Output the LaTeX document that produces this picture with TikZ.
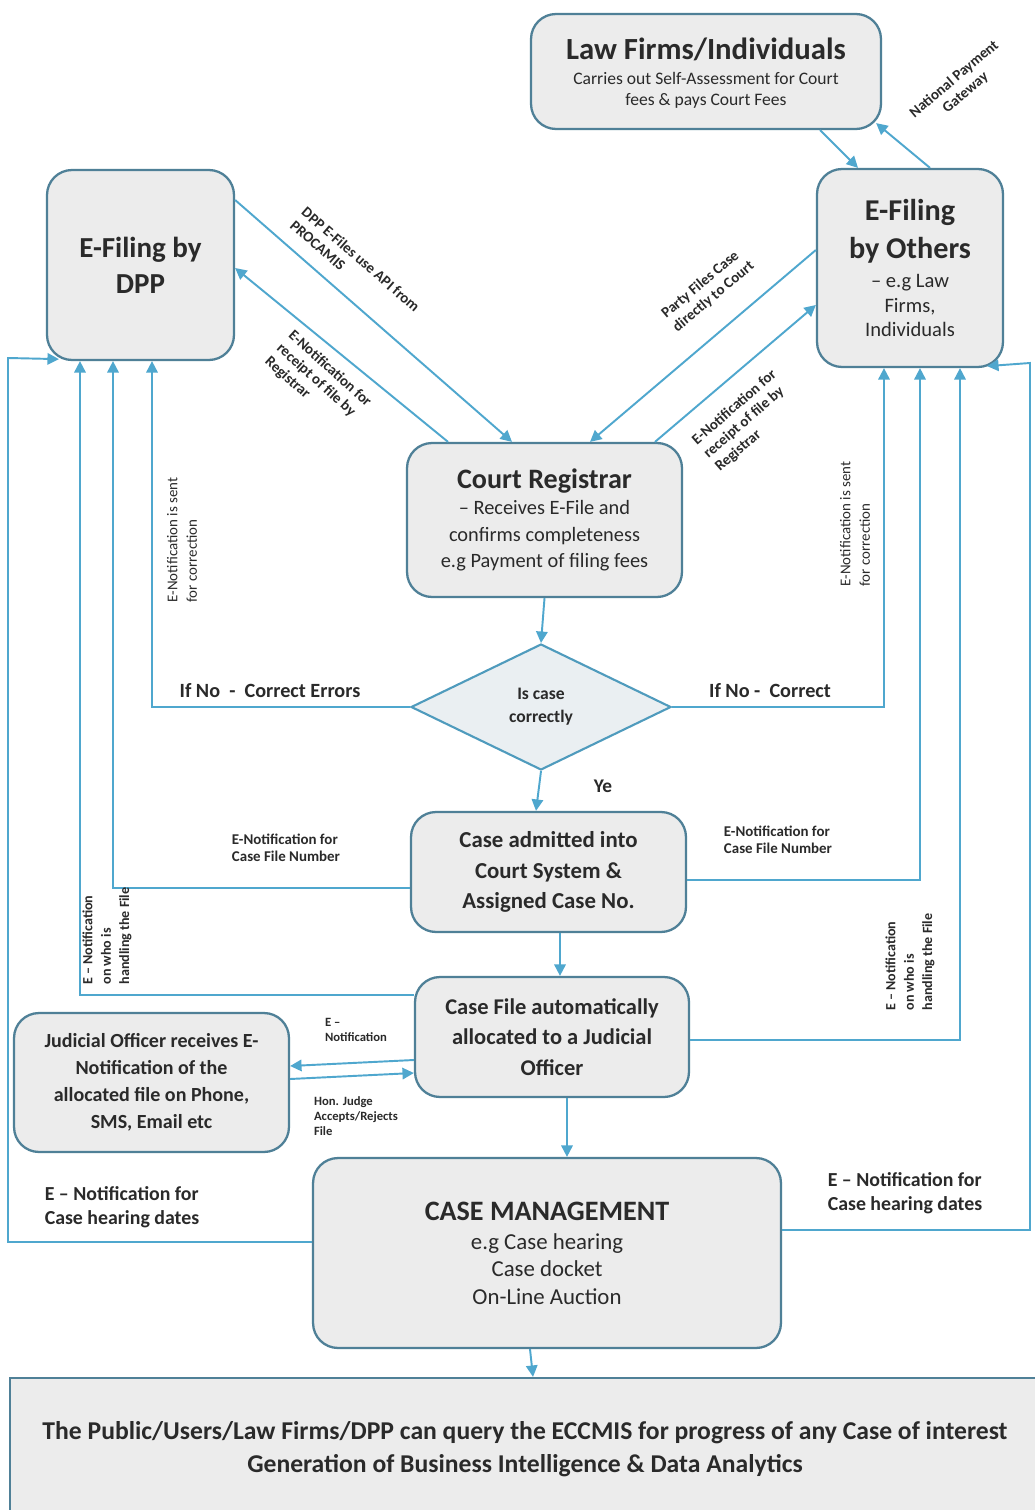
\documentclass[tikz,border=0pt]{standalone}
\usepackage{fontspec}
\setmainfont{Carlito}
\usetikzlibrary{shapes.geometric,arrows.meta,calc}
\definecolor{connc}{HTML}{4FA7CE}
\definecolor{bordc}{HTML}{4F8097}
\definecolor{boxf}{HTML}{ECECEC}
\definecolor{diamf}{HTML}{EAEFF2}
\definecolor{txtc}{HTML}{2A2A2A}
\begin{document}
\begin{tikzpicture}[x=0.02cm,y=-0.02cm,
  box/.style={draw=bordc,line width=1.3pt,fill=boxf,rounded corners=0.5cm,align=flush center,inner sep=1pt,text=txtc},
  cn/.style={draw=connc,line width=1.1pt,-{Triangle[length=6.5pt,width=6.5pt]}},
  lbl/.style={font=\fontsize{8.5}{10}\selectfont\bfseries,align=left,inner sep=0pt,text=txtc}]
\useasboundingbox (0,0) rectangle (1034,1510);
\fill[white] (0,0) rectangle (1034,1510);

% ---------- nodes ----------
\node[box,minimum width=7cm,minimum height=2.3cm,text width=6.9cm,font=\fontsize{10}{12}\selectfont] (lawf) at (706,71.5)
  {{\fontsize{17.5}{20}\selectfont\bfseries Law Firms/Individuals\par}\vspace{2.5pt}
   Carries out Self-Assessment for Court\\fees \& pays Court Fees\vspace{-2pt}};

\node[box,minimum width=3.74cm,minimum height=3.8cm,text width=3.6cm,font=\fontsize{16.5}{20.5}\selectfont\bfseries] (dpp) at (140.5,265)
  {E-Filing by\\DPP};

\node[box,minimum width=3.72cm,minimum height=3.96cm,text width=3.6cm,font=\fontsize{11.7}{13.9}\selectfont] (others) at (910,268)
  {{\fontsize{17.2}{21.5}\selectfont\bfseries E-Filing\\by Others\par}\vspace{3pt}
   – e.g Law\\Firms,\\Individuals};

\node[box,minimum width=5.5cm,minimum height=3.08cm,text width=5.4cm,font=\fontsize{11.6}{15}\selectfont] (reg) at (544.5,520)
  {{\fontsize{16}{18}\selectfont\bfseries Court Registrar\par}
   – Receives E-File and\\confirms completeness\\e.g Payment of filing fees};

\node[diamond,draw=connc!70!bordc,line width=1.2pt,fill=diamf,minimum width=5.2cm,minimum height=2.52cm,
  inner sep=0pt,align=center,text=txtc,font=\fontsize{10}{13}\selectfont\bfseries] (diam) at (541,707)
  {Is case\\correctly};

\node[box,minimum width=5.5cm,minimum height=2.4cm,text width=5.4cm,font=\fontsize{13}{17.3}\selectfont\bfseries] (adm) at (548.5,872)
  {Case admitted into\\Court System \&\\Assigned Case No.};

\node[box,minimum width=5.48cm,minimum height=2.4cm,text width=5.4cm,font=\fontsize{12.8}{17.3}\selectfont\bfseries] (alloc) at (552,1037)
  {Case File automatically\\allocated to a Judicial\\Officer};

\node[box,minimum width=5.5cm,minimum height=2.78cm,text width=5.4cm,font=\fontsize{11.4}{15.3}\selectfont\bfseries] (jud) at (151.5,1082.5)
  {Judicial Officer receives E-\\Notification of the\\allocated file on Phone,\\SMS, Email etc};

\node[box,minimum width=9.36cm,minimum height=3.8cm,text width=9.2cm,font=\fontsize{13}{15.6}\selectfont] (cm) at (547,1253)
  {{\fontsize{16}{18}\selectfont\bfseries CASE MANAGEMENT\par}\vspace{1pt}
   e.g Case hearing\\Case docket\\On-Line Auction};

\node[draw=bordc,line width=1.3pt,fill=boxf,minimum width=20.6cm,minimum height=2.84cm,align=center,
  text=txtc,font=\fontsize{14.6}{18.7}\selectfont\bfseries] (bot) at (525,1449)
  {The Public/Users/Law Firms/DPP can query the ECCMIS for progress of any Case of interest\\
   Generation of Business Intelligence \& Data Analytics};

% ---------- connectors ----------
\draw[cn] (lawf.south -| 820,0) -- (others.north -| 858,0);
\draw[cn] (others.north -| 930,0) -- ($(lawf.south east)+(-6,-7)$);
\node[lbl,rotate=40,align=center] at (960,86) {National Payment\\Gateway};

\draw[cn] (dpp.east |- 0,200) -- (reg.north -| 512,0);
\draw[cn] (reg.north -| 448,0) -- (dpp.east |- 0,268);
\node[lbl,rotate=-41] at (355,266) {DPP E-Files use API from\\PROCAMIS};
\node[lbl,rotate=-42] at (318,382) {E-Notification for\\receipt of file by\\Registrar};

\draw[cn] (others.west |- 0,250) -- (reg.north -| 590,0);
\draw[cn] (reg.north -| 655,0) -- (others.west |- 0,305);
\node[lbl,rotate=40] at (708,290) {Party Files Case\\directly to Court};
\node[lbl,rotate=41] at (746,421) {E-Notification for\\receipt of file by\\Registrar};

\draw[cn] (reg.south) -- (diam.north);

\draw[cn] (diam.west) -| (dpp.south -| 152,0);
\node[font=\fontsize{11.5}{13}\selectfont\bfseries,text=txtc] at (270,691) {If No\ \ -\ \ Correct Errors};
\node[lbl,font=\fontsize{8.5}{11}\selectfont,rotate=90] at (182,540) {E-Notification is sent\\for correction};

\draw[cn] (diam.east) -| (others.south -| 884,0);
\node[font=\fontsize{11.5}{13}\selectfont\bfseries,text=txtc] at (770,691) {If No -\ \ Correct};
\node[lbl,font=\fontsize{8.5}{11}\selectfont,rotate=90] at (855,524) {E-Notification is sent\\for correction};

\draw[cn] (diam.south) -- (adm.north -| 536,0);
\node[font=\fontsize{11}{13}\selectfont\bfseries,text=txtc] at (603,786) {Ye};

\draw[cn] (adm.west |- 0,888) -| (dpp.south -| 113,0);
\node[lbl] at (286,848) {E-Notification for\\Case File Number};
\draw[cn] (adm.east |- 0,880) -| (others.south -| 920,0);
\node[lbl] at (778,840) {E-Notification for\\Case File Number};

\draw[cn] (adm.south -| 560,0) -- (alloc.north -| 560,0);

\draw[cn] (alloc.west |- 0,995) -| (dpp.south -| 80,0);
\node[lbl,font=\fontsize{8}{10.5}\selectfont\bfseries,rotate=90] at (107,936) {E – Notification\\on who is\\handling the File};
\draw[cn] (alloc.east |- 0,1040) -| (others.south -| 960,0);
\node[lbl,font=\fontsize{8}{10.5}\selectfont\bfseries,rotate=90] at (910,962) {E – Notification\\on who is\\handling the File};

\draw[cn] (alloc.west |- 0,1060) -- (jud.east |- 0,1066);
\draw[cn] (jud.east |- 0,1079) -- (alloc.west |- 0,1073);
\node[lbl,font=\fontsize{7.2}{8.5}\selectfont\bfseries] at (356,1030) {E –\\Notification};
\node[lbl,font=\fontsize{7.2}{8.5}\selectfont\bfseries] at (356,1116) {Hon. Judge\\Accepts/Rejects\\File};

\draw[cn] (alloc.south -| 567,0) -- (cm.north -| 567,0);

\draw[cn] (cm.west |- 0,1242) -- (8,1242) -- (8,358) -- ($(dpp.south west)+(13,-2)$);
\node[lbl,font=\fontsize{11.3}{14}\selectfont\bfseries] at (122,1207) {E – Notification for\\Case hearing dates};
\draw[cn] (cm.east |- 0,1230) -- (1030,1230) -- (1030,363) -- ($(others.south east)+(-17,-2)$);
\node[lbl,font=\fontsize{11.3}{14}\selectfont\bfseries] at (905,1193) {E – Notification for\\Case hearing dates};

\draw[cn] (cm.south -| 530,0) -- (bot.north -| 533,0);
\end{tikzpicture}
\end{document}
